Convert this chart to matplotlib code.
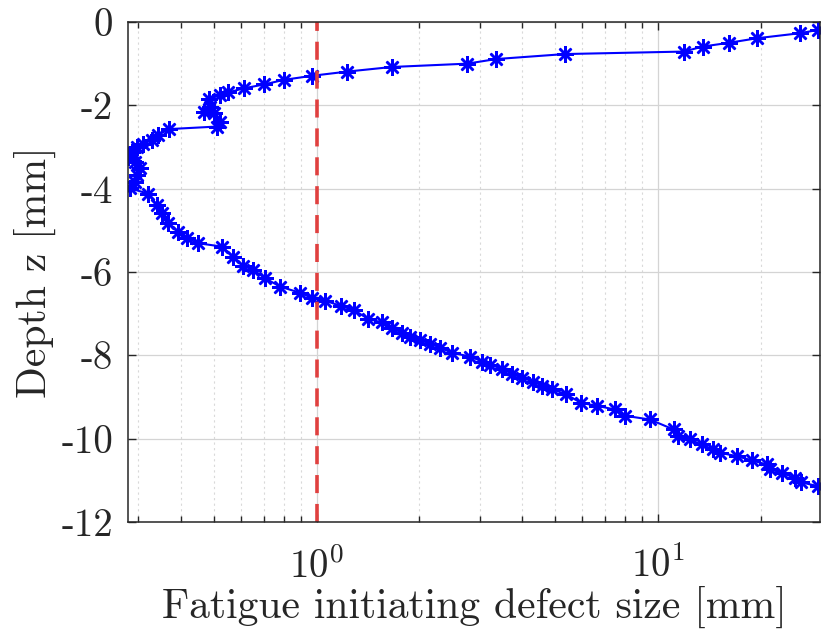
import numpy as np
import matplotlib.pyplot as plt
from matplotlib.ticker import FixedLocator, LogLocator, NullFormatter

plt.rcParams['font.family'] = 'cmr10'
plt.rcParams['mathtext.fontset'] = 'cm'
plt.rcParams['axes.formatter.use_mathtext'] = True

# defect size [mm] vs depth [mm]
defect_size = [29.4, 26.0, 19.5, 16.1, 13.5, 11.9, 5.33, 3.35, 2.76, 1.66,
               1.23, 0.972, 0.800, 0.701, 0.613, 0.551, 0.521, 0.484, 0.487, 0.468,
               0.500, 0.521, 0.510, 0.370, 0.342, 0.329, 0.310, 0.297, 0.287, 0.281,
               0.294, 0.304, 0.297, 0.294, 0.283, 0.321, 0.340, 0.352, 0.368, 0.393,
               0.416, 0.450, 0.527, 0.570, 0.608, 0.652, 0.706, 0.781, 0.894, 0.972,
               1.06, 1.18, 1.29, 1.41, 1.55, 1.66, 1.78, 1.88, 2.01, 2.15,
               2.30, 2.49, 2.82, 3.05, 3.22, 3.49, 3.74, 3.99, 4.31, 4.57,
               4.88, 5.39, 5.94, 6.60, 7.47, 7.99, 9.46, 11.1, 11.4, 12.4,
               13.4, 14.5, 15.2, 17.0, 18.8, 20.8, 21.2, 23.0, 25.1, 26.3,
               29.4]
depth = [-0.19, -0.27, -0.39, -0.50, -0.59, -0.71, -0.77, -0.89, -1.00, -1.08,
         -1.19, -1.29, -1.39, -1.50, -1.59, -1.69, -1.75, -1.86, -2.03, -2.17,
         -2.19, -2.39, -2.51, -2.57, -2.71, -2.83, -2.93, -3.00, -3.11, -3.23,
         -3.35, -3.51, -3.67, -3.83, -3.99, -4.12, -4.39, -4.59, -4.83, -5.03,
         -5.19, -5.31, -5.39, -5.63, -5.85, -5.95, -6.15, -6.35, -6.50, -6.63,
         -6.69, -6.82, -6.92, -7.12, -7.21, -7.35, -7.46, -7.55, -7.64, -7.72,
         -7.82, -7.94, -8.03, -8.15, -8.23, -8.32, -8.45, -8.54, -8.63, -8.73,
         -8.81, -8.94, -9.14, -9.21, -9.30, -9.45, -9.54, -9.78, -9.94, -10.02,
         -10.14, -10.26, -10.34, -10.42, -10.52, -10.62, -10.73, -10.82, -10.94, -11.05,
         -11.14]

critical_size = 1.0
yticks = [-12, -10, -8, -6, -4, -2, 0]
ytick_labels = ['-12', '-10', '-8', '-6', '-4', '-2', '0']

fig = plt.figure(figsize=(8.21, 6.39), dpi=100)
ax = fig.add_axes([0.1565, 0.1831, 0.8423, 0.7825])

ax.plot(defect_size, depth, color='#0000ff', linewidth=1.5,
        marker=(8, 2, 0), markersize=12, markeredgewidth=1.8)
ax.axvline(critical_size, color='#e0403f', linestyle=(0, (5, 3)), linewidth=2.6)

ax.set_xscale('log')
ax.set_xlim(0.281, 29.8)
ax.set_ylim(-12, 0)
ax.xaxis.set_major_locator(FixedLocator([1, 10]))
ax.xaxis.set_minor_locator(LogLocator(base=10, subs=np.arange(2, 10)))
ax.xaxis.set_minor_formatter(NullFormatter())
ax.set_yticks(yticks)
ax.set_yticklabels(ytick_labels)

ax.grid(True, which='major', color='#d4d4d4', linewidth=0.9)
ax.grid(True, which='minor', axis='x', color='#d9d9d9', linestyle=(0, (2, 3)), linewidth=0.8)
ax.set_axisbelow(True)

ax.tick_params(which='both', direction='in', top=True, right=True,
               color='#262626', labelsize=28, labelcolor='#262626')
ax.tick_params(which='major', length=6, width=1)
ax.tick_params(which='minor', length=4, width=1)
ax.tick_params(axis='x', which='major', pad=18)
ax.tick_params(axis='y', which='major', pad=11)
for s in ax.spines.values():
    s.set_color('#262626')
    s.set_linewidth(1.1)

ax.set_xlabel('Fatigue initiating defect size [mm]', fontsize=30, color='#262626', labelpad=0)
ax.set_ylabel('Depth z [mm]', fontsize=30, color='#262626', labelpad=4)

plt.savefig('out.png', dpi=100)
